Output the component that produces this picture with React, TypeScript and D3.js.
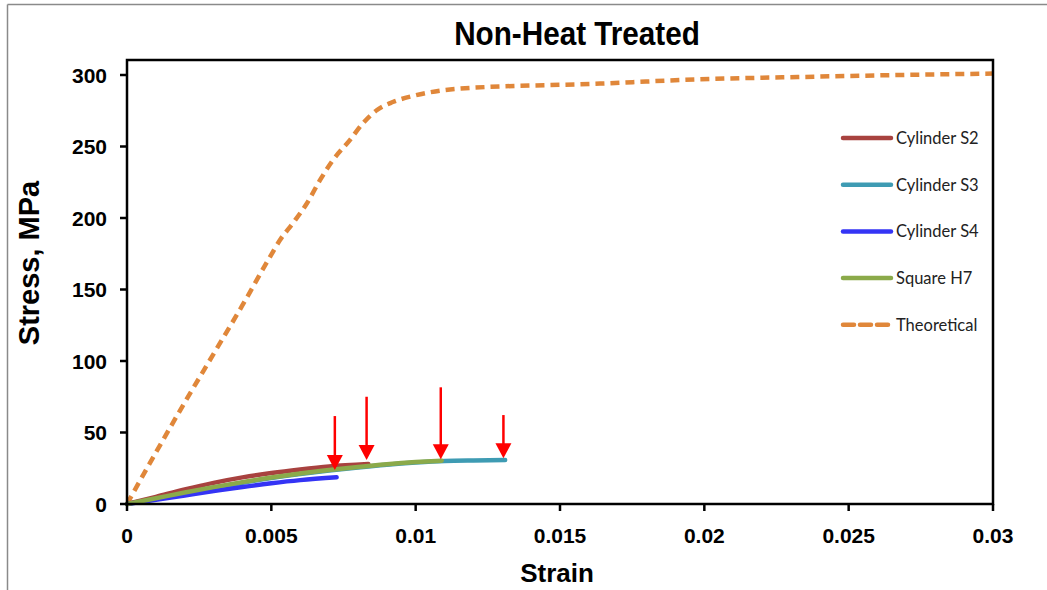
import React from "react";
import * as d3 from "d3";

const xTicks = [0, 0.005, 0.01, 0.015, 0.02, 0.025, 0.03];
const xTickLabels = ["0", "0.005", "0.01", "0.015", "0.02", "0.025", "0.03"];
const yTicks = [0, 50, 100, 150, 200, 250, 300];

const s2Strain = [0, 0.001, 0.002, 0.003, 0.004, 0.005, 0.006, 0.007, 0.00836];
const s2Stress = [0, 5.0, 10.2, 14.8, 18.6, 21.7, 24.2, 26.3, 28.0];

const s3Strain = [0, 0.001, 0.002, 0.003, 0.004, 0.005, 0.006, 0.007, 0.008, 0.009, 0.01, 0.011, 0.012, 0.0131];
const s3Stress = [0, 3.8, 7.7, 11.4, 14.9, 18.1, 20.9, 23.4, 25.6, 27.5, 29.0, 30.1, 30.5, 30.7];

const s4Strain = [0, 0.001, 0.002, 0.003, 0.004, 0.005, 0.006, 0.00726];
const s4Stress = [0, 3.0, 6.0, 9.0, 11.9, 14.5, 16.7, 18.7];

const h7Strain = [0, 0.001, 0.002, 0.003, 0.004, 0.005, 0.006, 0.007, 0.008, 0.009, 0.01, 0.0109];
const h7Stress = [0, 4.0, 8.0, 11.8, 15.3, 18.5, 21.3, 23.7, 25.9, 27.8, 29.3, 30.3];

const thStrain = [0, 0.001, 0.002, 0.003, 0.004, 0.00495, 0.0053, 0.00575, 0.00624, 0.00669, 0.00714, 0.00772, 0.00818, 0.00866, 0.00921, 0.0099, 0.01153, 0.01639, 0.01985, 0.0233, 0.02678, 0.03];
const thStress = [0, 36, 71, 105, 139, 172.7, 184.6, 196.5, 210.5, 226.6, 240.6, 254.5, 266.4, 275.5, 281.1, 285.3, 290.5, 294, 297, 298.6, 300, 301];

const arrowStrain = [0.0072, 0.0083, 0.01087, 0.01304];
const arrowTop = [61.5, 75, 81.6, 62.2];
const arrowTip = [23.8, 30.8, 31.3, 32];

const legendNames = ["Cylinder S2", "Cylinder S3", "Cylinder S4", "Square H7", "Theoretical"];
const legendColors = ["#A8423F", "#3E9BB3", "#3434F5", "#8BAA4A", "#E0873A"];

export default function App() {
  const W = 1047, H = 590;
  const x = d3.scaleLinear().domain([0, 0.03]).range([127, 993]);
  const y = d3.scaleLinear().domain([0, 300]).range([504, 75]);
  const line = (xs: number[], ys: number[]) =>
    d3.line<number>().x((_, i) => x(xs[i])).y((_, i) => y(ys[i])).curve(d3.curveMonotoneX)(xs) || "";

  const series = [
    { xs: s3Strain, ys: s3Stress, c: legendColors[1] },
    { xs: s2Strain, ys: s2Stress, c: legendColors[0] },
    { xs: s4Strain, ys: s4Stress, c: legendColors[2] },
    { xs: h7Strain, ys: h7Stress, c: legendColors[3] },
  ];
  const font = "'Liberation Sans', Arial, sans-serif";
  const frameTop = 60;

  return (
    <div style={{ position: "absolute", left: 0, top: 0 }}>
      <svg width={W} height={H} style={{ display: "block", background: "#fff" }}>
        <line x1={7.5} y1={4.5} x2={W} y2={4.5} stroke="#8a8a8a" strokeWidth={1.5} />
        <line x1={7.5} y1={4.5} x2={7.5} y2={H} stroke="#8a8a8a" strokeWidth={1.5} />

        <text transform="translate(577,45) scale(0.9,1)" textAnchor="middle" fontFamily={font} fontWeight="bold" fontSize={33} fill="#000">
          Non-Heat Treated
        </text>

        {/* curves */}
        <path d={line(thStrain, thStress)} fill="none" stroke={legendColors[4]} strokeWidth={4.5} strokeDasharray="9,6" />
        {series.map((s, i) => (
          <path key={i} d={line(s.xs, s.ys)} fill="none" stroke={s.c} strokeWidth={4.5} strokeLinecap="round" />
        ))}

        {/* arrows */}
        {arrowStrain.map((a, i) => {
          const ax = x(a), yt = y(arrowTop[i]), yp = y(arrowTip[i]);
          return (
            <g key={i}>
              <line x1={ax} y1={yt} x2={ax} y2={yp - 12} stroke="#FF0000" strokeWidth={2.5} />
              <path d={`M${ax - 8},${yp - 15}L${ax + 8},${yp - 15}L${ax},${yp}Z`} fill="#FF0000" />
            </g>
          );
        })}

        {/* frame */}
        <rect x={127} y={frameTop} width={866} height={504 - frameTop} fill="none" stroke="#000" strokeWidth={2.5} />

        {/* y ticks */}
        {yTicks.map((t) => (
          <g key={t}>
            <line x1={120} x2={127} y1={y(t)} y2={y(t)} stroke="#000" strokeWidth={2.5} />
            <text x={107} y={y(t) + 7.5} textAnchor="end" fontFamily={font} fontWeight="bold" fontSize={21}>
              {t}
            </text>
          </g>
        ))}
        {/* x ticks */}
        {xTicks.map((t, i) => (
          <g key={t}>
            <line x1={x(t)} x2={x(t)} y1={504} y2={511} stroke="#000" strokeWidth={2.5} />
            <text x={x(t)} y={543} textAnchor="middle" fontFamily={font} fontWeight="bold" fontSize={21}>
              {xTickLabels[i]}
            </text>
          </g>
        ))}

        <text x={557} y={582} textAnchor="middle" fontFamily={font} fontWeight="bold" fontSize={26}>
          Strain
        </text>
        <text transform="translate(39,263) rotate(-90)" textAnchor="middle" fontFamily={font} fontWeight="bold" fontSize={29}>
          Stress, MPa
        </text>

        {/* legend */}
        {legendNames.map((n, i) => {
          const ly = 138 + i * 46.7;
          return (
            <g key={n}>
              <line x1={843} x2={891} y1={ly} y2={ly} stroke={legendColors[i]} strokeWidth={4.5}
                strokeDasharray={i === 4 ? "11,6" : undefined} strokeLinecap="round" />
              <text x={896} y={ly + 6} fontFamily="Lato, 'Open Sans', sans-serif" fontSize={16.5} fill="#222">
                {n}
              </text>
            </g>
          );
        })}
      </svg>
    </div>
  );
}
